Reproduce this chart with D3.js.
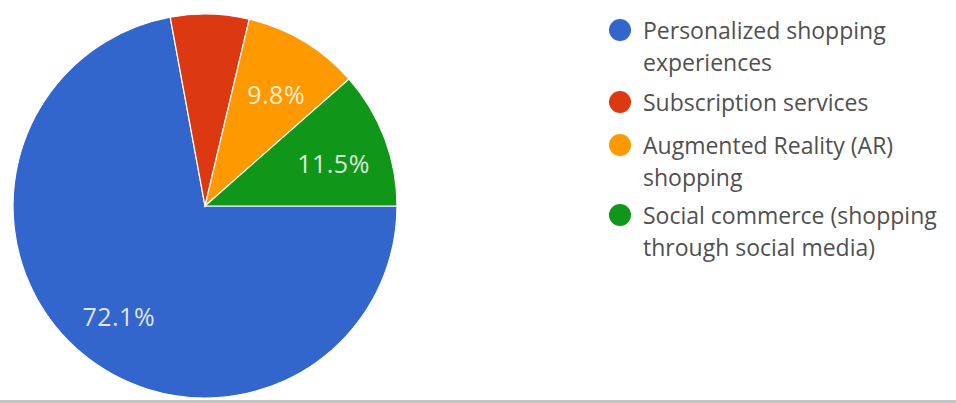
<!DOCTYPE html>
<html>
<head>
<meta charset="utf-8">
<script src="https://cdn.jsdelivr.net/npm/d3@7/dist/d3.min.js"></script>
<style>
  html, body { margin: 0; padding: 0; background: #fff; }
  svg { display: block; }
</style>
</head>
<body>
<svg id="chart" width="956" height="403"></svg>
<script>
// Survey answer categories, shares (%) and slice colours
const categories = [
  "Personalized shopping experiences",
  "Subscription services",
  "Augmented Reality (AR) shopping",
  "Social commerce (shopping through social media)"
];
const legendLines = [
  ["Personalized shopping", "experiences"],
  ["Subscription services"],
  ["Augmented Reality (AR)", "shopping"],
  ["Social commerce (shopping", "through social media)"]
];
const values = [72.1, 6.6, 9.8, 11.5];
const colors = ["#3366cc", "#dc3912", "#ff9900", "#109618"];

const svg = d3.select("#chart");
const W = 956, H = 403;
const cx = 205, cy = 206, R = 192;

svg.append("defs").append("clipPath").attr("id", "clipTop")
  .append("rect").attr("x", 0).attr("y", 0).attr("width", W).attr("height", 400);

const data = categories.map((c, i) => ({ name: c, value: values[i], color: colors[i] }));

// Slices run clockwise from 3 o'clock
const pie = d3.pie().value(d => d.value).sort(null)
  .startAngle(Math.PI / 2).endAngle(Math.PI / 2 + 2 * Math.PI);
const arcs = pie(data);

const arc = d3.arc().innerRadius(0).outerRadius(R);
const labelArc = d3.arc().innerRadius(R * 0.71).outerRadius(R * 0.71);

const g = svg.append("g").attr("clip-path", "url(#clipTop)")
  .append("g").attr("transform", `translate(${cx},${cy})`);

g.selectAll("path.slice").data(arcs).enter().append("path")
  .attr("class", "slice")
  .attr("d", arc)
  .attr("fill", d => d.data.color)
  .attr("stroke", "#ffffff")
  .attr("stroke-width", 1.2);

// Percentage labels on the larger slices
g.selectAll("text.pct").data(arcs.filter(d => d.data.value > 7)).enter().append("text")
  .attr("class", "pct")
  .attr("transform", d => {
    const [x, y] = labelArc.centroid(d);
    return `translate(${x + 1},${y + 5})`;
  })
  .attr("text-anchor", "middle")
  .attr("dominant-baseline", "central")
  .attr("font-family", "'Open Sans', sans-serif")
  .attr("font-size", 25)
  .attr("letter-spacing", 0.5)
  .attr("fill", "#ffffff")
  .attr("fill-opacity", 0.85)
  .text(d => d.data.value.toFixed(1) + "%");

// Legend
const legendX = 620, textX = 643;
const itemTop = [30, 102, 145, 215];
const lineGap = 32;
const legend = svg.append("g");
data.forEach((d, i) => {
  legend.append("circle")
    .attr("cx", legendX).attr("cy", itemTop[i]).attr("r", 11)
    .attr("fill", d.color);
  legendLines[i].forEach((line, j) => {
    legend.append("text")
      .attr("x", textX).attr("y", itemTop[i] + j * lineGap)
      .attr("dominant-baseline", "central")
      .attr("font-family", "'Open Sans', sans-serif")
      .attr("font-size", 23)
      .attr("fill", "#505050")
      .text(line);
  });
});

// Bottom divider
svg.append("rect").attr("x", 0).attr("y", 400).attr("width", W).attr("height", 3)
  .attr("fill", "#c4c4c4");
</script>
</body>
</html>
